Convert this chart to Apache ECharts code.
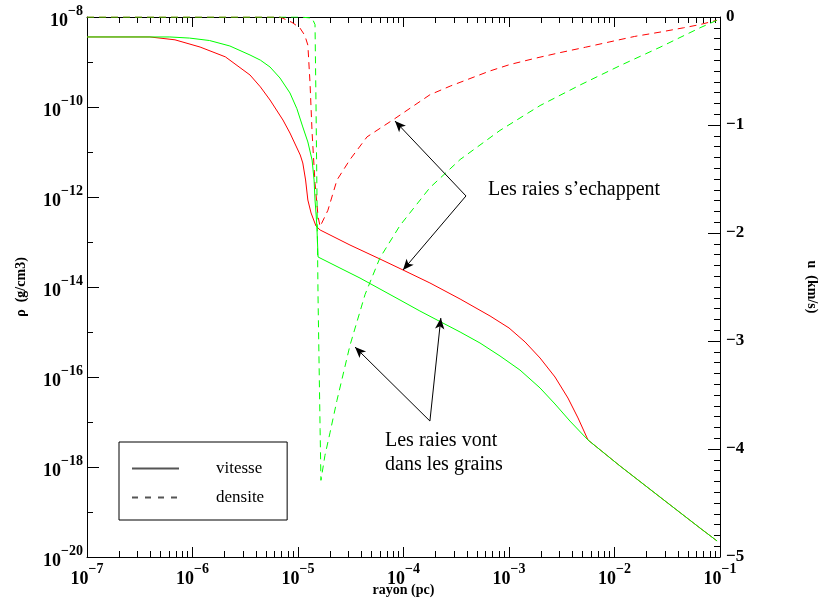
<!DOCTYPE html>
<html><head><meta charset="utf-8">
<script src="https://cdn.jsdelivr.net/npm/echarts@6/dist/echarts.min.js"></script>
<style>html,body{margin:0;padding:0;background:#fff}#c{width:822px;height:601px}</style>
</head><body><div id="c"></div>
<script>
// ---- data ----
// solid red : rho vs rayon
const rayonRougePlein = [1e-7, 3.95e-7, 6.82e-7, 1.18e-6, 2.05e-6, 3.51e-6, 4.40e-6, 5.43e-6, 7.20e-6, 8.39e-6, 1.05e-5, 1.11e-5, 1.18e-5, 1.24e-5, 1.33e-5, 1.48e-5, 1.62e-5, 3.11e-5, 5.98e-5, 9.89e-5, 1.78e-4, 3.44e-4, 6.61e-4, 1e-3, 1.42e-3, 1.97e-3, 2.73e-3, 3.62e-3, 4.51e-3, 5.61e-3, 1.13e-2, 2.70e-2, 6.46e-2, 9.38e-2];
const rhoRouge = [3.60e-9, 3.60e-9, 3.11e-9, 2.15e-9, 1.30e-9, 5.14e-10, 2.80e-10, 1.43e-10, 5.14e-11, 2.64e-11, 8.57e-12, 5.70e-12, 2.39e-12, 8.57e-13, 4.41e-13, 2.27e-13, 1.85e-13, 8.57e-14, 4.19e-14, 2.39e-14, 1.23e-14, 5.41e-15, 2.27e-15, 1.23e-15, 6.00e-16, 2.64e-16, 1.00e-16, 3.41e-17, 1.23e-17, 3.98e-18, 1.05e-18, 2.15e-19, 4.41e-20, 2.27e-20];
// solid green : rho vs rayon
const rayonVertPlein = [1e-7, 6.10e-7, 9.39e-7, 1.45e-6, 2.26e-6, 3.51e-6, 4.40e-6, 5.43e-6, 6.75e-6, 8.39e-6, 9.76e-6, 1.11e-5, 1.24e-5, 1.36e-5, 1.42e-5, 1.45e-5, 1.49e-5, 1.51e-5, 1.55e-5, 2.50e-5, 3.87e-5, 5.98e-5, 9.27e-5, 1.43e-4, 2.26e-4, 3.44e-4, 5.31e-4, 8.22e-4, 1.27e-3, 1.97e-3, 2.73e-3, 3.78e-3, 5.61e-3, 1.13e-2, 2.70e-2, 6.46e-2, 9.38e-2];
const rhoVert = [3.60e-9, 3.60e-9, 3.40e-9, 3.00e-9, 2.27e-9, 1.43e-9, 1.10e-9, 7.74e-10, 4.41e-10, 2.05e-10, 9.17e-11, 3.60e-11, 1.67e-11, 6.64e-12, 2.39e-12, 8.57e-13, 3.60e-13, 2.15e-13, 4.64e-14, 2.64e-14, 1.58e-14, 9.03e-15, 5.14e-15, 2.93e-15, 1.67e-15, 1.00e-15, 5.70e-16, 2.93e-16, 1.43e-16, 5.70e-17, 2.51e-17, 1.05e-17, 3.98e-18, 1.05e-18, 2.15e-19, 4.41e-20, 2.27e-20];
// dashed red : u (km/s) vs rayon
const rayonRougeTirets = [1e-7, 6.75e-6, 8.77e-6, 1.04e-5, 1.16e-5, 1.24e-5, 1.30e-5, 1.36e-5, 1.45e-5, 1.55e-5, 1.62e-5, 1.92e-5, 2.34e-5, 3.11e-5, 4.51e-5, 8.30e-5, 1.78e-4, 2.77e-4, 4.27e-4, 6.58e-4, 1.02e-3, 1.81e-3, 3.04e-3, 5.30e-3, 9.06e-3, 1.55e-2, 2.70e-2, 4.51e-2, 6.46e-2, 9.38e-2];
const uRouge = [0, 0, -0.05, -0.10, -0.17, -0.26, -0.61, -1.07, -1.54, -1.85, -1.94, -1.79, -1.51, -1.32, -1.11, -0.94, -0.72, -0.64, -0.57, -0.50, -0.44, -0.38, -0.33, -0.28, -0.23, -0.18, -0.14, -0.10, -0.07, -0.03];
// dashed green : u (km/s) vs rayon
const rayonVertTirets = [1e-7, 1.04e-5, 1.36e-5, 1.45e-5, 1.48e-5, 1.55e-5, 1.62e-5, 1.65e-5, 1.80e-5, 2.01e-5, 2.34e-5, 3.11e-5, 4.32e-5, 5.98e-5, 9.27e-5, 1.78e-4, 3.44e-4, 8.22e-4, 1.97e-3, 4.71e-3, 1.13e-2, 2.70e-2, 6.46e-2, 9.38e-2];
const uVert = [0, 0, -0.01, -0.07, -0.77, -2.62, -3.82, -4.29, -4.06, -3.85, -3.55, -3.04, -2.57, -2.23, -1.93, -1.58, -1.32, -1.05, -0.82, -0.63, -0.45, -0.28, -0.10, -0.03];

// tick values
const xDecades = [1e-7, 1e-6, 1e-5, 1e-4, 1e-3, 1e-2, 1e-1];
const rhoLabelled = [1e-8, 1e-10, 1e-12, 1e-14, 1e-16, 1e-18, 1e-20];
const rhoMinor = [1e-9, 1e-11, 1e-13, 1e-15, 1e-17, 1e-19];
const xMinor = [];
for (let d = 0; d < xDecades.length - 1; d++) for (let m = 2; m <= 9; m++) xMinor.push(+(m * xDecades[d]).toPrecision(3));

// annotations: [from, to] in (rayon, u) coordinates
const fleches = [
  [[3.91e-4, -1.657], [8.30e-5, -0.963]],
  [[3.91e-4, -1.657], [9.89e-5, -2.343]],
  [[1.78e-4, -3.741], [3.47e-5, -3.056]],
  [[1.78e-4, -3.741], [2.26e-4, -2.787]]
];

const zip = (a, b) => a.map((v, i) => [v, b[i]]);
const SERIF = 'Liberation Serif';
const supFmt = v => {
  const e = Math.round(Math.log10(v));
  return '{b|10}{s|' + (e < 0 ? '\u2212' + (-e) : e) + '}';
};
const rich = {
  b: {fontSize: 18, fontWeight: 'bold', fontFamily: SERIF, color: '#000', verticalAlign: 'bottom', lineHeight: 26},
  s: {fontSize: 14, fontWeight: 'bold', fontFamily: SERIF, color: '#000', verticalAlign: 'top', lineHeight: 26}
};
const black = {color: '#000', width: 1};
const nameStyle = {fontFamily: SERIF, fontWeight: 'bold', fontSize: 14, color: '#000'};

const logX = (extra) => Object.assign({
  type: 'log', logBase: 10, min: 1e-7, max: 1e-1, gridIndex: 0,
  splitLine: {show: false}
}, extra);
const logY = (extra) => Object.assign({
  type: 'log', logBase: 10, min: 1e-20, max: 1e-8,
  splitLine: {show: false}
}, extra);
const lineCommon = {type: 'line', showSymbol: false, symbol: 'none'};

const chart = echarts.init(document.getElementById('c'), null, {renderer: 'canvas'});
chart.setOption({
  animation: false,
  backgroundColor: '#fff',
  grid: {left: 87, right: 102, top: 17, bottom: 44, outerBoundsMode: 'none', containLabel: false},
  xAxis: [
    logX({position: 'bottom', axisLine: {show: true, onZero: false, lineStyle: black},
      axisTick: {show: true, inside: true, length: 10, lineStyle: black, customValues: xDecades},
      axisLabel: {show: true, margin: 5, customValues: xDecades, formatter: supFmt, rich: rich},
      name: 'rayon (pc)', nameLocation: 'middle', nameGap: 26, nameMoveOverlap: false, nameTextStyle: nameStyle}),
    logX({position: 'bottom', axisLine: {show: false, onZero: false},
      axisTick: {show: true, inside: true, length: 6, lineStyle: black, customValues: xMinor},
      axisLabel: {show: false}}),
    logX({position: 'top', axisLine: {show: true, onZero: false, lineStyle: black},
      axisTick: {show: true, inside: true, length: 10, lineStyle: black, customValues: xDecades},
      axisLabel: {show: false}}),
    logX({position: 'top', axisLine: {show: false, onZero: false},
      axisTick: {show: true, inside: true, length: 6, lineStyle: black, customValues: xMinor},
      axisLabel: {show: false}})
  ],
  yAxis: [
    logY({position: 'left', axisLine: {show: true, onZero: false, lineStyle: black},
      axisTick: {show: true, inside: true, length: 12, lineStyle: black, customValues: rhoLabelled},
      axisLabel: {show: true, margin: 4, customValues: rhoLabelled, formatter: supFmt, rich: rich},
      name: '\u03c1  (g/cm3)', nameLocation: 'middle', nameGap: 59, nameMoveOverlap: false, nameRotate: 90, nameTextStyle: nameStyle}),
    {type: 'value', position: 'right', min: -5, max: 0, interval: 1,
      splitLine: {show: false},
      axisLine: {show: true, onZero: false, lineStyle: black},
      axisTick: {show: true, inside: true, length: 12, lineStyle: black},
      minorTick: {show: true, splitNumber: 10, length: 6, lineStyle: black},
      axisLabel: {show: true, margin: 6, fontFamily: SERIF, fontWeight: 'bold', fontSize: 17, color: '#000',
        formatter: v => v === 0 ? '0' : '\u2212' + Math.abs(v)},
      name: 'u  (km/s)', nameLocation: 'middle', nameGap: 85, nameMoveOverlap: false, nameRotate: -90, nameTextStyle: nameStyle},
    logY({position: 'left', axisLine: {show: false, onZero: false},
      axisTick: {show: true, inside: true, length: 6, lineStyle: black, customValues: rhoMinor},
      axisLabel: {show: false}})
  ],
  legend: {
    left: 119, top: 442, orient: 'vertical',
    data: ['vitesse', 'densite'],
    itemWidth: 47, itemHeight: 14, itemGap: 12,
    padding: [18, 23, 14, 12],
    borderColor: '#000', borderWidth: 1, borderRadius: 0,
    backgroundColor: '#fff',
    selectedMode: false,
    itemStyle: {opacity: 0},
    textStyle: {fontFamily: SERIF, fontSize: 17, color: '#000', padding: [0, 0, 0, 32]}
  },
  series: [
    Object.assign({name: 'rho rouge', xAxisIndex: 0, yAxisIndex: 0, data: zip(rayonRougePlein, rhoRouge),
      lineStyle: {color: '#ff0000', width: 1}, z: 3}, lineCommon),
    Object.assign({name: 'rho vert', xAxisIndex: 0, yAxisIndex: 0, data: zip(rayonVertPlein, rhoVert),
      lineStyle: {color: '#00ff00', width: 1}, z: 4}, lineCommon),
    Object.assign({name: 'u rouge', xAxisIndex: 0, yAxisIndex: 1, data: zip(rayonRougeTirets, uRouge),
      lineStyle: {color: '#ff0000', width: 1, type: [7, 5]}, z: 3}, lineCommon),
    Object.assign({name: 'u vert', xAxisIndex: 0, yAxisIndex: 1, data: zip(rayonVertTirets, uVert),
      lineStyle: {color: '#00ff00', width: 1, type: [7, 5]}, z: 4}, lineCommon),
    {name: 'vitesse', type: 'line', xAxisIndex: 0, yAxisIndex: 1, data: [], symbol: 'none',
      itemStyle: {color: '#555', opacity: 0}, lineStyle: {color: '#555', width: 2}},
    {name: 'densite', type: 'line', xAxisIndex: 0, yAxisIndex: 1, data: [], symbol: 'none',
      itemStyle: {color: '#555', opacity: 0}, lineStyle: {color: '#555', width: 1.5, type: [6, 7]}},
    {name: 'fleches', type: 'line', xAxisIndex: 0, yAxisIndex: 1, data: [], symbol: 'none',
      markLine: {silent: true, symbol: ['none', 'arrow'], symbolSize: [7, 11], animation: false,
        label: {show: false}, lineStyle: {color: '#000', width: 1, type: 'solid'},
        data: fleches.map(f => [{coord: f[0]}, {coord: f[1]}])}}
  ],
  graphic: [
    {type: 'text', left: 488, top: 180, style: {text: 'Les raies s\u2019echappent', font: '20px "Liberation Serif"', fill: '#000'}},
    {type: 'text', left: 385, top: 431, style: {text: 'Les raies vont', font: '20px "Liberation Serif"', fill: '#000'}},
    {type: 'text', left: 385, top: 455, style: {text: 'dans les grains', font: '20px "Liberation Serif"', fill: '#000'}}
  ]
});
</script>
</body></html>
